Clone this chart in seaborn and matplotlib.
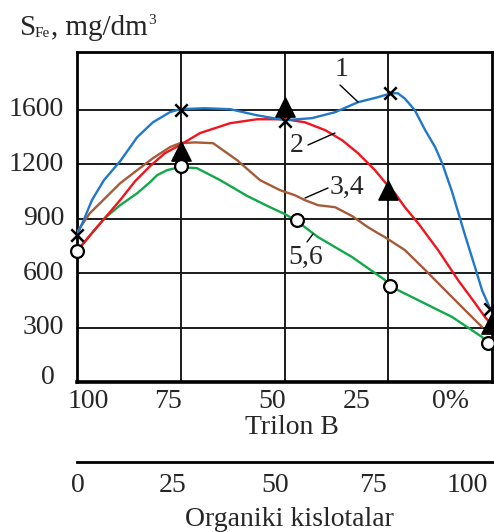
import numpy as np
import pandas as pd
import matplotlib
matplotlib.use("Agg")
import matplotlib.pyplot as plt
from matplotlib.lines import Line2D
import matplotlib.transforms as mtransforms
import seaborn as sns

# ---------------- data ----------------
c1_x = [0, 1.7, 3.6, 6.5, 10.4, 14.5, 18.3, 22.4, 24.8, 30.8, 36.9, 43.4, 50.1, 56.6, 62.2, 67.7,
        72.5, 75.7, 77.3, 79.0, 81.4, 83.9, 86.3, 88.0, 90.4, 93.5, 95.9, 97.6, 99.5]
c1_y = [809, 897, 1002, 1112, 1222, 1398, 1508, 1582, 1604, 1611, 1604, 1559, 1523, 1538, 1582, 1655,
        1692, 1721, 1721, 1682, 1596, 1450, 1325, 1207, 1046, 809, 633, 506, 407]

c2_x = [0, 3.4, 6.7, 10.4, 14.0, 17.6, 21.2, 24.8, 29.6, 36.9, 43.4, 50.1, 54.9, 59.8, 63.9, 67.7,
        71.8, 74.2, 76.6, 79.0, 82.2, 87.0, 91.8, 95.9, 98.3, 99.8]
c2_y = [721, 815, 903, 1002, 1106, 1189, 1281, 1340, 1428, 1501, 1530, 1530, 1508, 1450, 1376, 1281,
        1167, 1101, 1040, 963, 875, 727, 562, 435, 358, 319]

c34_x = [0, 3.1, 6.3, 10.4, 14.5, 18.3, 22.4, 24.8, 28.5, 32.8, 38.6, 44.1, 48.9, 52.5, 54.9, 58.1,
         62.2, 66.3, 70.1, 72.5, 74.2, 79.0, 83.9, 88.7, 93.5, 97.6]
c34_y = [826, 930, 1002, 1095, 1167, 1244, 1325, 1354, 1360, 1354, 1229, 1112, 1057, 1029, 1002, 974,
         963, 914, 853, 820, 798, 727, 617, 506, 396, 303]

c56_x = [0, 3.4, 6.7, 10.4, 14.5, 17.6, 19.3, 21.7, 24.8, 28.9, 34.5, 41.0, 46.5, 50.1, 53.0, 58.1,
         66.3, 74.2, 75.4, 82.2, 90.4, 97.6, 99.0]
c56_y = [721, 815, 903, 974, 1040, 1101, 1139, 1167, 1184, 1178, 1112, 1025, 963, 925, 886, 798,
         688, 562, 528, 451, 358, 248, 215]

m1_x = [0, 25, 50, 75.5, 99.5]
m1_y = [810, 1600, 1520, 1720, 400]
m2_x = [25, 50, 75, 99.8]
m2_y = [1300, 1620, 1060, 320]
m56_x = [0, 25, 53, 75.4, 99]
m56_y = [720, 1190, 890, 530, 215]

y_ticks = [0, 300, 600, 900, 1200, 1600]
y_labels = ["0", "300", "600", "900", "1200", "1600"]
grid_x = [25, 50, 75]
trilon_labels = ["100", "75", "50", "25", "0%"]
trilon_pos = [2.7, 22.0, 47.0, 67.5, 90.0]
org_ticks = [0, 25, 50, 75]
org_labels = ["0", "25", "50", "75", "100"]
org_pos = [0.3, 23.0, 47.7, 71.3, 94.0]
curve_labels = ["1", "2", "3,4", "5,6"]

colors = {"1": "#1f78c8", "2": "#f0141e", "3,4": "#a65a38", "5,6": "#12a84a"}

# ---------------- setup ----------------
sns.set_theme(style="white")
plt.rcParams["font.family"] = ["Liberation Serif", "DejaVu Serif"]
plt.rcParams["mathtext.fontset"] = "custom"

W, H = 494, 532
fig = plt.figure(figsize=(W / 100, H / 100), dpi=100)


def fx(px):
    return px / W


def fy(py):
    return 1 - py / H


# y axis: equal spacing per labelled grid line (non-linear values)
VALS = [0, 300, 600, 900, 1200, 1600, 2400]
IDX = [0, 1, 2, 3, 4, 5, 7]


def fwd(v):
    return np.interp(v, VALS, IDX)


def inv(i):
    return np.interp(i, IDX, VALS)


ax = fig.add_axes([fx(77), fy(382), (492 - 77) / W, (382 - 52) / H])
ax.set_yscale("function", functions=(fwd, inv))
ax.set_xlim(0, 100)
ax.set_ylim(0, inv(6.06))

ax.set_xticks(grid_x)
ax.set_xticklabels([])
ax.set_yticks(y_ticks)
ax.set_yticklabels([])
ax.tick_params(length=0)
ax.grid(True, color="#1a1a1a", lw=1.4)
for s in ax.spines.values():
    s.set_color("black")
    s.set_linewidth(2.0)
ax.spines["bottom"].set_linewidth(2.6)
ax.set_xlabel("")
ax.set_ylabel("")

# curves
series = [("1", c1_x, c1_y), ("2", c2_x, c2_y), ("3,4", c34_x, c34_y), ("5,6", c56_x, c56_y)]
frames = []
for name, xs, ys in series:
    frames.append(pd.DataFrame({"x": xs, "y": ys, "curve": name}))
df = pd.concat(frames, ignore_index=True)
for name in ["3,4", "5,6", "2", "1"]:
    sub = df[df["curve"] == name]
    sns.lineplot(data=sub, x="x", y="y", sort=False, estimator=None, color=colors[name],
                 lw=1.7, ax=ax, zorder=3, legend=False)

# markers
sns.scatterplot(x=m1_x, y=m1_y, marker="x", s=80, color="black", linewidth=1.8, ax=ax,
                zorder=5, clip_on=False, legend=False)
sns.scatterplot(x=m2_x, y=m2_y, marker="^", s=190, color="black", edgecolor="black", ax=ax,
                zorder=5, clip_on=False, legend=False)
sns.scatterplot(x=m56_x, y=m56_y, marker="o", s=85, facecolor="white", edgecolor="black",
                linewidth=1.6, ax=ax, zorder=6, clip_on=False, legend=False)
ax.set_xlabel("")
ax.set_ylabel("")

FS = 20

# y tick labels
ytr = ax.get_yaxis_transform()
for v, lab in zip(y_ticks, y_labels):
    right = 55 if lab == "0" else 64
    dy = 5 if lab == "0" else 0
    t = mtransforms.offset_copy(ytr, fig=fig, x=right - 77, y=dy, units="dots")
    ax.text(0, v, lab, transform=t, ha="right", va="center", fontsize=FS, clip_on=False)

# Trilon B scale labels
xtr = ax.get_xaxis_transform()
t1 = mtransforms.offset_copy(xtr, fig=fig, x=0, y=-20, units="dots")
for p, lab in zip(trilon_pos, trilon_labels):
    ax.text(p, 0, lab, transform=t1, ha="center", va="center", fontsize=FS)
t2 = mtransforms.offset_copy(xtr, fig=fig, x=0, y=-46, units="dots")
ax.text(51.8, 0, "Trilon B", transform=t2, ha="center", va="center", fontsize=FS)

# second (organic acids) axis
ax2 = fig.add_axes([fx(77), fy(462), (494 - 77) / W, 0.0001])
ax2.set_xlim(0, 100 * (494 - 77) / (492 - 77))
ax2.set_ylim(0, 1)
for k in ["top", "left", "right"]:
    ax2.spines[k].set_visible(False)
ax2.spines["bottom"].set_linewidth(2.0)
ax2.spines["bottom"].set_color("black")
ax2.set_xticks(org_ticks)
ax2.set_xticklabels([])
ax2.set_yticks([])
ax2.tick_params(axis="x", direction="in", length=6.5, width=2.0, color="black")
ax2.patch.set_visible(False)
xtr2 = ax2.get_xaxis_transform()
t3 = mtransforms.offset_copy(xtr2, fig=fig, x=0, y=-23, units="dots")
for p, lab in zip(org_pos, org_labels):
    ax2.text(p, 0, lab, transform=t3, ha="center", va="center", fontsize=FS)
t4 = mtransforms.offset_copy(xtr2, fig=fig, x=0, y=-58, units="dots")
ax2.text(51.3, 0, "Organiki kislotalar", transform=t4, ha="center", va="center", fontsize=FS)

# y axis title  S_Fe, mg/dm^3
fig.text(fx(20), fy(35), "S", fontsize=21, ha="left", va="baseline")
fig.text(fx(35), fy(37), "Fe", fontsize=11, ha="left", va="baseline")
fig.text(fx(51), fy(35), ", mg/dm", fontsize=21, ha="left", va="baseline")
fig.text(fx(148), fy(24), "3", fontsize=11, ha="left", va="baseline")

# curve labels with leader lines
label_pos = [(342, 70), (297, 146), (347, 187), (306, 257)]
leaders = [((340, 85), (358, 102)), ((308, 145), (335, 133)),
           ((305, 198), (328, 188)), ((307, 242), (313, 234))]
for lab, (px, py), ((a, b), (c, d)) in zip(curve_labels, label_pos, leaders):
    fig.text(fx(px), fy(py), lab, fontsize=FS, ha="center", va="center")
    fig.add_artist(Line2D([fx(a), fx(c)], [fy(b), fy(d)], transform=fig.transFigure,
                          color="black", lw=1.0))

fig.savefig("out.png", dpi=100)
